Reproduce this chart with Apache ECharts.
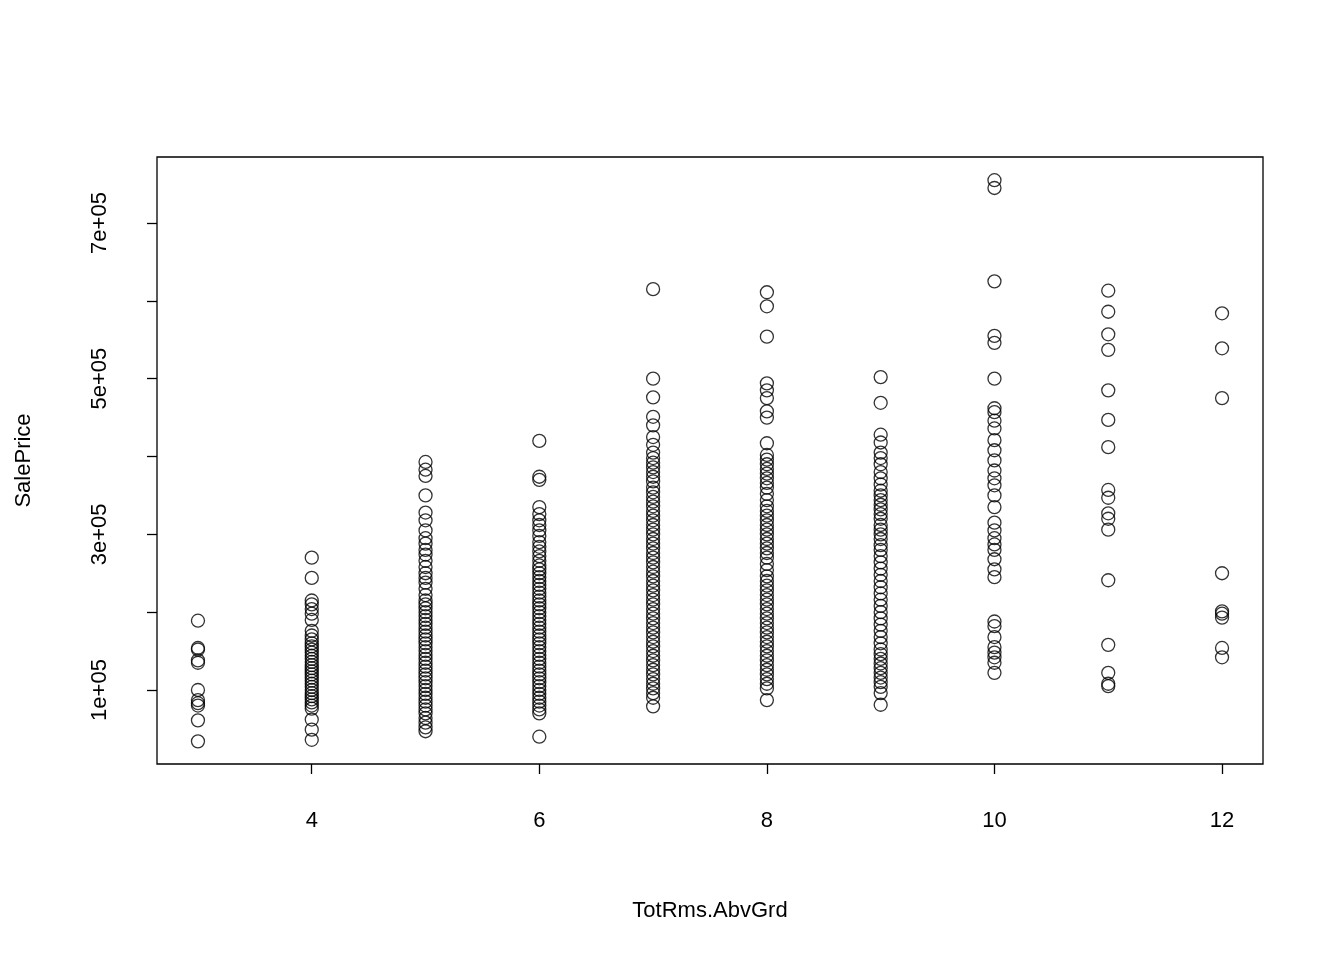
<!DOCTYPE html>
<html>
<head>
<meta charset="UTF-8">
<script src="https://cdn.jsdelivr.net/npm/echarts@6/dist/echarts.min.js"></script>
<style>body{margin:0;background:#fff}#chart{width:1344px;height:960px}</style>
</head>
<body>
<div id="chart"></div>
<script>
// sale prices, one list per room count
var rooms3 = [189000,154000,152000,138000,135000,100000,87000,83000,80000,61000,34000];
var rooms4 = [270000,244000,215000,210000,204000,198000,190000,176000,170000,165000,160000,156000,152000,148000,144000,140000,136000,132000,128000,124000,120000,116000,112000,108000,104000,100000,96000,92000,88000,84000,80000,76000,62000,49000,36000];
var rooms5 = [393000,383000,375000,350000,328000,318000,305000,295000,288000,280000,274000,266000,258000,250000,244000,238000,230000,222000,215000,210000,205000,200000,195000,190000,185000,180000,175000,170000,165000,160000,155000,150000,145000,140000,135000,130000,125000,120000,115000,110000,105000,100000,95000,90000,85000,80000,75000,70000,64000,58000,52000,47000];
var rooms6 = [420000,374000,370000,335000,326000,318000,312000,305000,298000,290000,284000,278000,272000,266000,260000,255000,250000,245000,240000,235000,230000,225000,220000,215000,210000,205000,200000,195000,190000,185000,180000,175000,170000,165000,160000,155000,150000,145000,140000,135000,130000,125000,120000,115000,110000,105000,100000,95000,90000,85000,80000,75000,70000,40000];
var rooms7 = [615000,500000,476000,451000,440000,425000,415000,405000,398000,392000,386000,380000,374000,368000,360000,354000,348000,342000,336000,330000,324000,318000,312000,306000,300000,294000,288000,282000,276000,270000,264000,258000,252000,246000,240000,234000,228000,222000,216000,210000,204000,198000,192000,186000,180000,174000,168000,162000,156000,150000,144000,138000,132000,126000,120000,114000,108000,102000,96000,90000,79000];
var rooms8 = [611000,593000,554000,494000,485000,475000,458000,450000,417000,402000,396000,390000,384000,378000,372000,366000,360000,352000,344000,336000,330000,324000,318000,312000,306000,300000,294000,288000,282000,276000,270000,262000,254000,246000,240000,234000,228000,222000,216000,210000,204000,198000,192000,186000,180000,174000,168000,162000,156000,150000,144000,138000,132000,126000,120000,114000,108000,102000,87000];
var rooms9 = [502000,469000,428000,418000,405000,398000,390000,380000,372000,364000,356000,350000,344000,338000,332000,326000,320000,312000,306000,300000,294000,286000,280000,272000,264000,256000,248000,240000,232000,224000,216000,208000,200000,192000,184000,176000,168000,160000,152000,146000,140000,134000,128000,122000,116000,110000,104000,96000,81000];
var rooms10 = [755000,745000,625000,555000,546000,500000,462000,457000,446000,436000,421000,408000,395000,382000,372000,363000,350000,335000,315000,305000,295000,287000,280000,268000,255000,245000,188000,182000,168000,155000,148000,142000,135000,122000];
var rooms11 = [613000,586000,557000,537000,485000,447000,412000,357000,347000,327000,320000,306000,241000,158000,122000,108000,105000];
var rooms12 = [584000,539000,475000,250000,201000,198000,193000,154000,142000];
var roomCounts = [3,4,5,6,7,8,9,10,11,12];
var prices = [rooms3,rooms4,rooms5,rooms6,rooms7,rooms8,rooms9,rooms10,rooms11,rooms12];
var xTicks = [4,6,8,10,12];
var yTicks = [100000,200000,300000,400000,500000,600000,700000];
var yLabels = [100000,300000,500000,700000];

var pts = [];
roomCounts.forEach(function(r, i){
    prices[i].forEach(function(p){ pts.push([r, p]); });
});

var font = 'Liberation Sans, Arial, sans-serif';
var chart = echarts.init(document.getElementById('chart'));
chart.setOption({
    animation: false,
    grid: {left:157, top:157, width:1106, height:607, show:true, borderColor:'#000', borderWidth:1.3},
    xAxis: {
        type:'value', min:2.64, max:12.36,
        name:'TotRms.AbvGrd', nameLocation:'middle', nameGap:136,
        nameTextStyle:{fontFamily:font, fontSize:22, color:'#000'},
        axisLine:{show:false}, splitLine:{show:false},
        axisTick:{show:true, customValues:xTicks, length:10, lineStyle:{color:'#000', width:1.3}},
        axisLabel:{customValues:xTicks, margin:46, fontFamily:font, fontSize:22, color:'#000'}
    },
    yAxis: {
        type:'value', min:4900, max:784800,
        name:'SalePrice', nameLocation:'middle', nameGap:122,
        nameTextStyle:{fontFamily:font, fontSize:22, color:'#000'},
        axisLine:{show:false}, splitLine:{show:false},
        axisTick:{show:true, customValues:yTicks, length:10, lineStyle:{color:'#000', width:1.3}},
        axisLabel:{customValues:yLabels, rotate:90, margin:46, fontFamily:font, fontSize:22, color:'#000',
            formatter:function(v){ return (v/100000) + 'e+05'; }}
    },
    series: [{
        type:'scatter', data:pts, symbol:'circle', symbolSize:13,
        itemStyle:{color:'rgba(0,0,0,0)', borderColor:'#000', borderWidth:1.3}
    }]
});
</script>
</body>
</html>
